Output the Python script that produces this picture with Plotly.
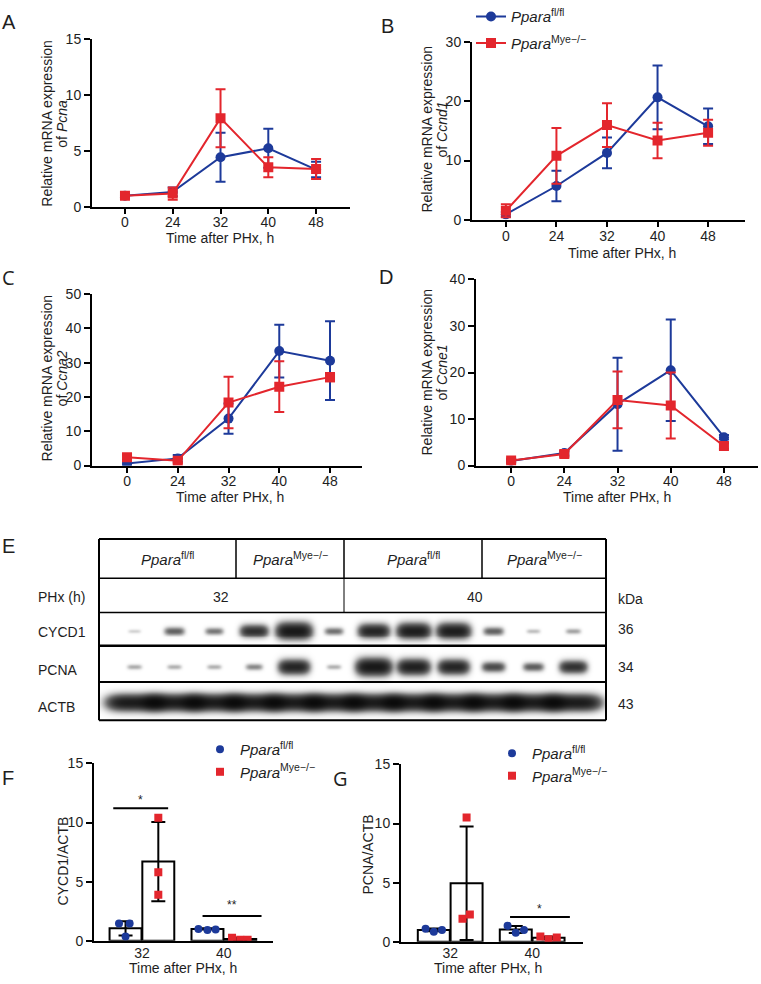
import numpy as np
import plotly.graph_objects as go

W, H = 761, 984
FONT = "Liberation Sans, Arial, Helvetica, sans-serif"
INK = "#1e1e1e"
BLUE = "#1d3a9a"
RED = "#e3262d"


def X(px):
    return px / W


def Y(py):
    return 1 - py / H


# ---------------- data: qPCR time courses (A-D) ----------------
times = ["0", "24", "32", "40", "48"]

pcna_fl = [1.0, 1.35, 4.45, 5.25, 3.35]
pcna_fl_sd = [0.15, 0.4, 2.2, 1.75, 0.7]
pcna_ko = [1.0, 1.2, 7.95, 3.55, 3.4]
pcna_ko_sd = [0.15, 0.55, 2.6, 0.9, 0.9]

ccnd1_fl = [0.9, 5.7, 11.3, 20.7, 15.8]
ccnd1_fl_sd = [0.4, 2.6, 2.6, 5.4, 3.0]
ccnd1_ko = [1.5, 10.8, 16.0, 13.4, 14.7]
ccnd1_ko_sd = [1.1, 4.7, 3.7, 3.0, 2.2]

ccna2_fl = [0.6, 2.1, 13.7, 33.4, 30.6]
ccna2_fl_sd = [0.5, 1.0, 4.4, 7.7, 11.5]
ccna2_ko = [2.4, 1.4, 18.4, 23.0, 25.8]
ccna2_ko_sd = [0.8, 0.7, 7.5, 7.4, 1.2]

ccne1_fl = [1.0, 2.7, 13.2, 20.5, 6.1]
ccne1_fl_sd = [0.4, 0.5, 10.0, 10.9, 0.5]
ccne1_ko = [1.1, 2.5, 14.1, 12.9, 4.2]
ccne1_ko_sd = [0.4, 0.6, 6.1, 7.1, 0.6]

# significance marks (time, height)
pcna_sig = [("32", 11.7)]
ccnd1_sig = [("32", 21.8), ("40", 28.1)]
ccna2_sig = [("40", 44.4)]
ccne1_sig = []

# ---------------- data: western blot (E) ----------------
geno_labels = ["<i>Ppara</i><sup>fl/fl</sup>", "<i>Ppara</i><sup>Mye\u2212/\u2212</sup>",
               "<i>Ppara</i><sup>fl/fl</sup>", "<i>Ppara</i><sup>Mye\u2212/\u2212</sup>"]
phx_labels = ["32", "40"]
blot_rows = ["CYCD1", "PCNA", "ACTB"]
blot_kda = ["36", "34", "43"]
lanes = list(range(1, 13))
cycd1_band = [0.08, 0.38, 0.3, 0.7, 1.0, 0.32, 0.82, 0.92, 0.92, 0.38, 0.12, 0.18]
pcna_band = [0.16, 0.15, 0.15, 0.25, 0.82, 0.15, 1.0, 0.88, 0.82, 0.5, 0.4, 0.68]
actb_band = [0.95, 0.95, 0.95, 0.95, 0.95, 0.95, 0.95, 0.95, 0.95, 0.95, 0.95, 0.95]

# ---------------- data: quantification (F, G) ----------------
groups = ["32", "40"]
f_fl_mean = [1.05, 1.0]
f_fl_sd = [0.6, 0.06]
f_ko_mean = [6.7, 0.15]
f_ko_sd = [3.35, 0.1]
f_fl_pts = [[1.45, 1.45, 0.35], [1.0, 0.9, 0.95]]
f_ko_pts = [[10.4, 5.8, 3.9], [0.25, 0.08, 0.08]]

g_fl_mean = [1.0, 1.03]
g_fl_sd = [0.12, 0.3]
g_ko_mean = [4.95, 0.33]
g_ko_sd = [4.8, 0.12]
g_fl_pts = [[1.1, 0.85, 1.0], [1.35, 0.75, 1.0]]
g_ko_pts = [[10.5, 1.95, 2.3], [0.45, 0.2, 0.35]]

fl_name = "<i>Ppara</i><sup>fl/fl</sup>"
ko_name = "<i>Ppara</i><sup>Mye\u2212/\u2212</sup>"

fig = go.Figure()
annotations = []
shapes = []


def ann(text, px, py, size=14, **kw):
    d = dict(text=text, x=X(px), y=Y(py), xref="paper", yref="paper", showarrow=False,
             font=dict(family=kw.pop("family", FONT), size=size, color=INK),
             xanchor=kw.pop("xanchor", "center"), yanchor=kw.pop("yanchor", "middle"))
    d.update(kw)
    annotations.append(d)


tickfont = dict(family=FONT, size=14, color=INK)

line_panels = [
    dict(k="", xd=(92, 350), yd=(28, 199), xr=[-0.69, 4.71], yr=[0, 15], dt=5, so=-4,
         fl=pcna_fl, fls=pcna_fl_sd, ko=pcna_ko, kos=pcna_ko_sd, gene="Pcna", sig=pcna_sig,
         t1=47, t2=62, ty=114, xtx=220, xty=231),
    dict(k="2", xd=(472, 745), yd=(31, 212), xr=[-0.67, 4.73], yr=[0, 30], dt=10, so=-2,
         fl=ccnd1_fl, fls=ccnd1_fl_sd, ko=ccnd1_ko, kos=ccnd1_ko_sd, gene="Ccnd1", sig=ccnd1_sig,
         t1=427, t2=442, ty=120, xtx=622, xty=246),
    dict(k="3", xd=(92, 362), yd=(288, 463), xr=[-0.69, 4.63], yr=[0, 50], dt=10, so=-3,
         fl=ccna2_fl, fls=ccna2_fl_sd, ko=ccna2_ko, kos=ccna2_ko_sd, gene="Ccna2", sig=ccna2_sig,
         t1=47, t2=62, ty=374, xtx=230, xty=495),
    dict(k="4", xd=(476, 758), yd=(273, 463), xr=[-0.66, 4.64], yr=[0, 40], dt=10, so=-3,
         fl=ccne1_fl, fls=ccne1_fl_sd, ko=ccne1_ko, kos=ccne1_ko_sd, gene="Ccne1", sig=ccne1_sig,
         t1=427, t2=442, ty=368, xtx=617, xty=495),
]

for p in line_panels:
    k = p["k"]
    for vals, sds, col, sym, name in [(p["fl"], p["fls"], BLUE, "circle", fl_name),
                                      (p["ko"], p["kos"], RED, "square", ko_name)]:
        fig.add_trace(go.Scatter(
            x=times, y=vals, mode="lines+markers", name=name, legendgroup=name,
            line=dict(color=col, width=2),
            marker=dict(symbol=sym, size=10, color=col),
            error_y=dict(type="data", array=sds, color=col, thickness=2, width=5),
            xaxis="x" + k, yaxis="y" + k, showlegend=(k == "2"), legend="legend",
            hoverinfo="skip"))
    fig.layout["xaxis" + k] = dict(
        domain=[X(p["xd"][0]), X(p["xd"][1])], anchor="y" + k, type="category",
        categoryorder="array", categoryarray=times, range=p["xr"],
        showline=True, linecolor="black", linewidth=2, ticks="outside", ticklen=5,
        tickwidth=2, tickcolor="black", showgrid=False, zeroline=False, tickfont=tickfont,
        ticklabelstandoff=p["so"], fixedrange=True)
    fig.layout["yaxis" + k] = dict(
        domain=[Y(p["yd"][1]), Y(p["yd"][0])], anchor="x" + k, range=p["yr"], dtick=p["dt"],
        showline=True, linecolor="black", linewidth=2, ticks="outside", ticklen=6,
        tickwidth=2, tickcolor="black", showgrid=False, zeroline=False, tickfont=tickfont,
        fixedrange=True)
    ann("Relative mRNA expression", p["t1"], p["ty"], textangle=-90)
    ann("of <i>%s</i>" % p["gene"], p["t2"], p["ty"], textangle=-90)
    ann("Time after PHx, h", p["xtx"], p["xty"])
    for t, yv in p["sig"]:
        annotations.append(dict(text="*", x=t, y=yv, xref="x" + k, yref="y" + k,
                                showarrow=False, font=dict(family=FONT, size=12, color=INK)))

# ---------------- western blot ----------------
gx = np.linspace(0.12, 12.83, 508)
gy = np.linspace(-0.5, 2.5, 111)
GX, GY = np.meshgrid(gx, gy)
Z = np.zeros_like(GX)
for r, band in enumerate([cycd1_band, pcna_band, actb_band]):
    wide = 0.26 if r == 2 else 0.0
    for ln, inten in zip(lanes, band):
        sx = 0.13 + 0.29 * inten + wide
        sy = 0.035 + 0.17 * inten
        Z += inten * np.exp(-(((GX - ln) / sx) ** 4 + ((GY - r) / sy) ** 2))
dark = 1 - np.exp(-2.2 * Z)
fig.add_trace(go.Heatmap(x=gx, y=gy, z=dark, zmin=0, zmax=1, zsmooth="best",
                         colorscale=[[0, "#ffffff"], [0.5, "#707070"], [1, "#000000"]],
                         showscale=False, xaxis="x5", yaxis="y5", hoverinfo="skip"))
fig.layout["xaxis5"] = dict(domain=[X(99), X(606)], anchor="y5", range=[0.12, 12.83],
                            visible=False, fixedrange=True)
fig.layout["yaxis5"] = dict(domain=[Y(723), Y(613)], anchor="x5", range=[2.5, -0.5],
                            visible=False, fixedrange=True)


def pline(x0, y0, x1, y1, w=1.5):
    shapes.append(dict(type="line", xref="paper", yref="paper", x0=X(x0), y0=Y(y0),
                       x1=X(x1), y1=Y(y1), line=dict(color="black", width=w)))


# table frame
pline(99, 538, 606, 538, 2)
pline(99, 723, 606, 723, 2)
pline(99, 538, 99, 723, 2)
pline(606, 538, 606, 723, 2)
pline(99, 578, 606, 578, 1.5)
pline(99, 613, 606, 613, 1.5)
pline(99, 647, 606, 647, 2.5)
pline(99, 684, 606, 684, 2)
for vx in (236, 344, 482):
    pline(vx, 538, vx, 578, 1.5)
pline(344, 578, 344, 613, 1)

for lab, cx in zip(geno_labels, (167.5, 290, 413, 544)):
    ann(lab, cx, 558, size=15)
for lab, cx in zip(phx_labels, (221, 475)):
    ann(lab, cx, 597, size=14)
ann("PHx (h)", 36, 597, size=14, xanchor="left")
ann("kDa", 616, 599, size=14, xanchor="left")
for lab, kd, cy in zip(blot_rows, blot_kda, (633, 672, 709)):
    ann(lab, 36, cy, size=14, xanchor="left")
    ann(kd, 616, cy - 3, size=14, xanchor="left")

# ---------------- bar panels F, G ----------------
bar_off = 0.2
bar_w = 0.39

bar_panels = [
    dict(k="6", xd=(94, 273), yd=(767, 948), xr=[-0.585, 1.6], so=-2,
         flm=f_fl_mean, fls=f_fl_sd, kom=f_ko_mean, kos=f_ko_sd, flp=f_fl_pts, kop=f_ko_pts,
         flj=[[-0.08, 0.05, 0.0], [-0.11, 0.0, 0.1]], koj=[[0.0, 0.0, 0.0], [-0.1, 0.0, 0.09]],
         leg="legend2", ytitle="CYCD1/ACTB", tx=63, ty=867, xtx=183, xty=976,
         sig=[(-0.35, 0.32, 11.2, "*", 11.9), (0.74, 1.46, 2.1, "**", 3.0)]),
    dict(k="7", xd=(401, 583), yd=(768, 949), xr=[-0.6, 1.62], so=-3,
         flm=g_fl_mean, fls=g_fl_sd, kom=g_ko_mean, kos=g_ko_sd, flp=g_fl_pts, kop=g_ko_pts,
         flj=[[-0.1, 0.0, 0.1], [-0.1, 0.0, 0.1]], koj=[[0.0, -0.05, 0.04], [-0.1, 0.0, 0.1]],
         leg="legend3", ytitle="PCNA/ACTB", tx=368, ty=860, xtx=488, xty=976,
         sig=[(0.73, 1.46, 2.08, "*", 2.8)]),
]

for p in bar_panels:
    k = p["k"]
    idx = list(range(len(groups)))
    for means, sds, off in [(p["flm"], p["fls"], -bar_off), (p["kom"], p["kos"], bar_off)]:
        fig.add_trace(go.Bar(
            x=[i + off for i in idx], y=means, width=bar_w,
            marker=dict(color="white", line=dict(color="black", width=2)),
            error_y=dict(type="data", array=sds, color="black", thickness=2, width=7),
            xaxis="x" + k, yaxis="y" + k, showlegend=False, hoverinfo="skip"))
    for pts, jits, off, col, sym, name in [(p["flp"], p["flj"], -bar_off, BLUE, "circle", fl_name),
                                           (p["kop"], p["koj"], bar_off, RED, "square", ko_name)]:
        xs, ys = [], []
        for i, grp, jg in zip(idx, pts, jits):
            for j, v in zip(jg, grp):
                xs.append(i + off + j)
                ys.append(v)
        fig.add_trace(go.Scatter(
            x=xs, y=ys, mode="markers", name=name,
            marker=dict(symbol=sym, size=8, color=col),
            xaxis="x" + k, yaxis="y" + k, legend=p["leg"], showlegend=True,
            hoverinfo="skip"))
    fig.layout["xaxis" + k] = dict(
        domain=[X(p["xd"][0]), X(p["xd"][1])], anchor="y" + k, range=p["xr"],
        tickvals=idx, ticktext=groups, showline=True, linecolor="black", linewidth=2,
        ticks="", showgrid=False, ticklabelstandoff=p["so"],
        zeroline=False, tickfont=tickfont, fixedrange=True)
    fig.layout["yaxis" + k] = dict(
        domain=[Y(p["yd"][1]), Y(p["yd"][0])], anchor="x" + k, range=[0, 15], dtick=5,
        showline=True, linecolor="black", linewidth=2, ticks="outside", ticklen=6,
        tickwidth=2, tickcolor="black", showgrid=False, zeroline=False, tickfont=tickfont,
        fixedrange=True)
    ann(p["ytitle"], p["tx"], p["ty"], textangle=-90)
    ann("Time after PHx, h", p["xtx"], p["xty"])
    for x0, x1, yv, txt, ty in p["sig"]:
        shapes.append(dict(type="line", xref="x" + k, yref="y" + k, x0=x0, x1=x1, y0=yv, y1=yv,
                           line=dict(color="black", width=2)))
        annotations.append(dict(text=txt, x=(x0 + x1) / 2, y=ty, xref="x" + k, yref="y" + k,
                                showarrow=False, font=dict(family=FONT, size=12, color=INK)))

# panel letters
for letter, lx, ly, fam in [("A", 9, 10, FONT), ("B", 387, 14, FONT), ("C", 8, 271, "Open Sans"),
                            ("D", 386, 271, FONT), ("E", 8, 545, FONT), ("F", 8, 782, FONT),
                            ("G", 340, 782, "Open Sans")]:
    ann(letter, lx, ly, size=20, family=fam)

legfont = dict(family=FONT, size=15, color=INK)
fig.update_layout(
    width=W, height=H, margin=dict(l=0, r=0, t=0, b=0),
    paper_bgcolor="white", plot_bgcolor="rgba(0,0,0,0)",
    barmode="overlay",
    annotations=annotations, shapes=shapes,
    legend=dict(x=X(471), y=Y(-12), xanchor="left", yanchor="top", font=legfont,
                bgcolor="rgba(0,0,0,0)", itemwidth=30, tracegroupgap=4),
    legend2=dict(x=X(200), y=Y(736), xanchor="left", yanchor="top", font=legfont,
                 bgcolor="rgba(0,0,0,0)", itemwidth=30),
    legend3=dict(x=X(492), y=Y(740), xanchor="left", yanchor="top", font=legfont,
                 bgcolor="rgba(0,0,0,0)", itemwidth=30),
    font=dict(family=FONT, color=INK),
)

fig.write_html("out.html", config={"displayModeBar": False, "staticPlot": True},
               post_script="document.documentElement.style.margin='0';"
                           "document.body.style.margin='0';document.body.style.padding='0';"
                           "document.body.style.overflow='hidden';")
